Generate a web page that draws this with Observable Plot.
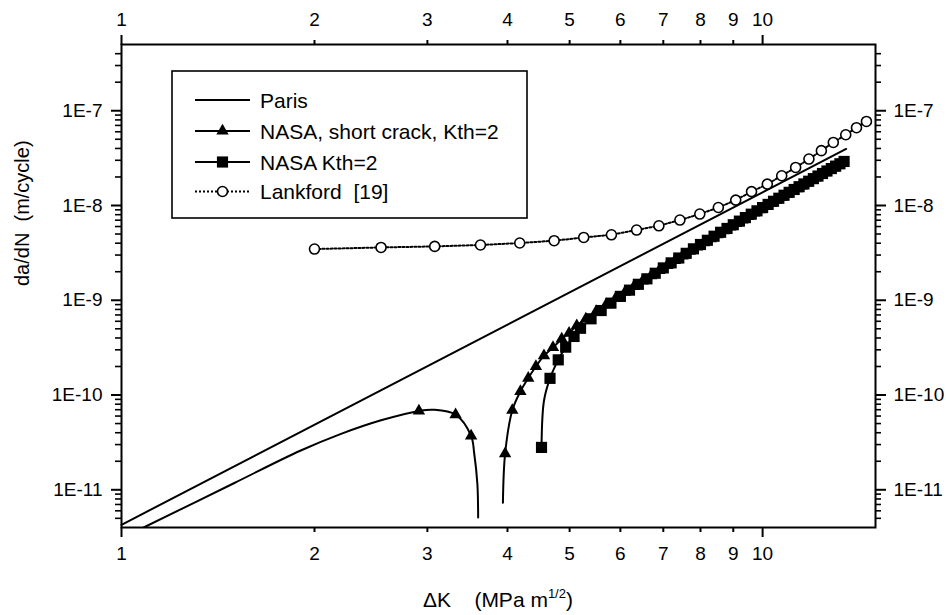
<!DOCTYPE html>
<html><head><meta charset="utf-8">
<script src="https://cdn.jsdelivr.net/npm/d3@7"></script>
<script src="https://cdn.jsdelivr.net/npm/@observablehq/plot@0.6"></script>
<style>
body{margin:0;background:#fff;}
svg text{white-space:pre;}
</style></head><body><div id="chart"></div>
<script>
// ---- data (ΔK in MPa m^1/2, da/dN in m/cycle) ----
const parisK = [1, 13.5];
const parisDa = [4.27e-12, 3.95e-8];

const tri1K = [1.083, 1.5, 1.9, 2.2, 2.54, 2.91, 3.07, 3.32, 3.51, 3.55, 3.59, 3.60];
const tri1Da = [4.0e-12, 1.18e-11, 2.58e-11, 3.89e-11, 5.41e-11, 6.8e-11, 7.0e-11, 6.2e-11, 3.7e-11, 2.4e-11, 1.15e-11, 5.1e-12];
const tri1Marked = [2.91, 3.32, 3.51];

const tri2K = [3.935, 3.966, 4.07, 4.19, 4.31, 4.43, 4.56, 4.71, 4.86, 4.99, 5.13, 5.3, 5.5, 5.7, 5.9, 6.1, 6.3, 6.5, 6.7, 6.9, 7.1, 7.3, 7.5, 7.7, 7.9, 8.1, 8.3, 8.5, 8.7, 8.9, 9.1, 9.3, 9.5, 9.7, 9.9, 10.1, 10.3, 10.5, 10.7, 10.9, 11.1, 11.3, 11.5, 11.7, 11.9, 12.1, 12.3, 12.5, 12.7, 12.9, 13.1, 13.3];
const tri2Da = [7.3e-12, 2.4e-11, 6.9e-11, 1.09e-10, 1.51e-10, 2.0e-10, 2.6e-10, 3.18e-10, 3.9e-10, 4.5e-10, 5.4e-10, 6.35e-10, 7.62e-10, 9.0e-10, 1.053e-9, 1.219e-9, 1.401e-9, 1.597e-9, 1.817e-9, 2.065e-9, 2.335e-9, 2.628e-9, 2.944e-9, 3.287e-9, 3.654e-9, 4.05e-9, 4.473e-9, 4.925e-9, 5.41e-9, 5.926e-9, 6.474e-9, 7.06e-9, 7.68e-9, 8.335e-9, 9.031e-9, 9.763e-9, 1.054e-8, 1.136e-8, 1.222e-8, 1.313e-8, 1.408e-8, 1.508e-8, 1.613e-8, 1.723e-8, 1.837e-8, 1.958e-8, 2.084e-8, 2.216e-8, 2.353e-8, 2.496e-8, 2.647e-8, 2.802e-8];
const tri2LineOnly = [3.935];

const sqK = [4.52, 4.56, 4.66, 4.80, 4.93, 5.08, 5.2, 5.4, 5.6, 5.8, 6.0, 6.2, 6.4, 6.6, 6.8, 7.0, 7.2, 7.4, 7.6, 7.8, 8.0, 8.2, 8.4, 8.6, 8.8, 9.0, 9.2, 9.4, 9.6, 9.8, 10.0, 10.2, 10.4, 10.6, 10.8, 11.0, 11.2, 11.4, 11.6, 11.8, 12.0, 12.2, 12.4, 12.6, 12.8, 13.0, 13.2, 13.4];
const sqDa = [2.8e-11, 8.7e-11, 1.5e-10, 2.35e-10, 3.2e-10, 4.15e-10, 5.065e-10, 6.374e-10, 7.79e-10, 9.324e-10, 1.099e-9, 1.279e-9, 1.474e-9, 1.684e-9, 1.928e-9, 2.194e-9, 2.481e-9, 2.792e-9, 3.128e-9, 3.49e-9, 3.877e-9, 4.295e-9, 4.74e-9, 5.217e-9, 5.725e-9, 6.266e-9, 6.84e-9, 7.452e-9, 8.098e-9, 8.784e-9, 9.51e-9, 1.027e-8, 1.108e-8, 1.193e-8, 1.283e-8, 1.377e-8, 1.476e-8, 1.579e-8, 1.689e-8, 1.803e-8, 1.921e-8, 2.046e-8, 2.176e-8, 2.312e-8, 2.454e-8, 2.602e-8, 2.755e-8, 2.916e-8];
const sqLineOnly = [4.56];

const lkK = [2.00, 2.54, 3.08, 3.63, 4.18, 4.73, 5.26, 5.81, 6.36, 6.89, 7.43, 7.98, 8.53, 9.08, 9.61, 10.17, 10.71, 11.26, 11.81, 12.35, 12.89, 13.48, 14.01, 14.52];
const lkDa = [3.47e-9, 3.61e-9, 3.70e-9, 3.83e-9, 4.02e-9, 4.25e-9, 4.60e-9, 4.91e-9, 5.51e-9, 6.11e-9, 7.02e-9, 8.12e-9, 9.53e-9, 1.14e-8, 1.40e-8, 1.68e-8, 2.06e-8, 2.52e-8, 3.09e-8, 3.79e-8, 4.63e-8, 5.58e-8, 6.62e-8, 7.71e-8];

const legendLabels = ["Paris", "NASA, short crack, Kth=2", "NASA Kth=2", "Lankford  [19]"];
const xTicksMajor = [1, 10];
const xTicksMinor = [2, 3, 4, 5, 6, 7, 8, 9];
const yTicksMajor = [1e-11, 1e-10, 1e-9, 1e-8, 1e-7];
const yMinorMult = [2, 3, 4, 5, 6, 7, 8, 9];
const yMinorExp = [-12, -11, -10, -9, -8, -7];
const xDomain = [1, 15];
const yDomain = [4e-12, 5e-7];
const xTitle = ["\u0394K    (MPa m", "1/2", ")"];
const yTitle = "da/dN  (m/cycle)";

// ---- build tables ----
const zip = (ks, ds) => ks.map((k, i) => ({k, da: ds[i]}));
const paris = zip(parisK, parisDa);
const tri1 = zip(tri1K, tri1Da);
const tri2 = zip(tri2K, tri2Da);
const sq = zip(sqK, sqDa);
const lk = zip(lkK, lkDa);
const yMinor = [];
for (const e of yMinorExp) for (const m of yMinorMult) {
  const v = m * Math.pow(10, e);
  if (v > yDomain[0] * 1.0001 && v < yDomain[1] * 0.9999) yMinor.push(v);
}

const W = 946, H = 615;
const mL = 121, mR = 71, mT = 44, mB = 88;
const font = "'Liberation Sans', Arial, Helvetica, sans-serif";
const triR = 4.6, sqR = 6.3, cR = 5;
const tickFont = 19;
const yFmt = d => "1E" + Math.round(Math.log10(d));

const chart = Plot.plot({
  width: W, height: H,
  marginLeft: mL, marginRight: mR, marginTop: mT, marginBottom: mB,
  style: {fontFamily: font, fontSize: "19px", color: "black", background: "white", overflow: "visible"},
  x: {type: "log", domain: xDomain},
  y: {type: "log", domain: yDomain},
  marks: [
    Plot.line(paris, {x: "k", y: "da", stroke: "black", strokeWidth: 2}),
    Plot.line(tri1, {x: "k", y: "da", stroke: "black", strokeWidth: 2, curve: "catmull-rom", clip: true}),
    Plot.dot(tri1.filter(d => tri1Marked.includes(d.k)), {x: "k", y: "da", symbol: "triangle", r: triR, fill: "black", stroke: "none"}),
    Plot.line(tri2, {x: "k", y: "da", stroke: "black", strokeWidth: 2, curve: "catmull-rom", clip: true}),
    Plot.dot(tri2.filter(d => !tri2LineOnly.includes(d.k)), {x: "k", y: "da", symbol: "triangle", r: triR, fill: "black", stroke: "none"}),
    Plot.line(sq, {x: "k", y: "da", stroke: "black", strokeWidth: 2, curve: "catmull-rom", clip: true}),
    Plot.dot(sq.filter(d => !sqLineOnly.includes(d.k)), {x: "k", y: "da", symbol: "square", r: sqR, fill: "black", stroke: "none"}),
    Plot.line(lk, {x: "k", y: "da", stroke: "black", strokeWidth: 2, strokeDasharray: "2,2"}),
    Plot.dot(lk, {x: "k", y: "da", r: cR, fill: "white", stroke: "black", strokeWidth: 1.6}),
    Plot.frame({stroke: "black", strokeWidth: 2}),
    // x axes
    Plot.axisX(xTicksMajor, {anchor: "bottom", tickSize: 10, tickPadding: 9, strokeWidth: 2, fontSize: tickFont, tickFormat: d => String(d), label: null}),
    Plot.axisX(xTicksMinor, {anchor: "bottom", tickSize: 5, tickPadding: 14, strokeWidth: 2, fontSize: tickFont, tickFormat: d => String(d), label: null}),
    Plot.axisX(xTicksMajor, {anchor: "top", tickSize: 10, tickPadding: 9, strokeWidth: 2, fontSize: tickFont, tickFormat: d => String(d), label: null}),
    Plot.axisX(xTicksMinor, {anchor: "top", tickSize: 5, tickPadding: 14, strokeWidth: 2, fontSize: tickFont, tickFormat: d => String(d), label: null}),
    // y axes
    Plot.axisY(yTicksMajor, {anchor: "left", tickSize: 10, tickPadding: 9, strokeWidth: 2, fontSize: tickFont, tickFormat: yFmt, label: null}),
    Plot.axisY(yMinor, {anchor: "left", tickSize: 6, strokeWidth: 1.6, tickFormat: () => "", label: null}),
    Plot.axisY(yTicksMajor, {anchor: "right", tickSize: 10, tickPadding: 8, strokeWidth: 2, fontSize: tickFont, tickFormat: yFmt, label: null}),
    Plot.axisY(yMinor, {anchor: "right", tickSize: 5, strokeWidth: 1.6, tickFormat: () => "", label: null}),
    Plot.text([yTitle], {frameAnchor: "left", dx: -99, rotate: -90, fontSize: 20, text: d => d})
  ]
});
document.getElementById("chart").appendChild(chart);

// ---- legend and x title ----
const svg = d3.select(chart);
const lg = svg.append("g").attr("font-family", font).attr("font-size", 21).attr("text-anchor", "start");
lg.append("rect").attr("x", 172).attr("y", 71).attr("width", 355).attr("height", 147)
  .attr("fill", "white").attr("stroke", "black").attr("stroke-width", 1.6);
const rowY = [100, 131, 162, 191.5];
const x0 = 195, x1 = 250, xm = 222.5, xt = 260;
legendLabels.forEach((lab, i) => {
  const y = rowY[i];
  const ln = lg.append("line").attr("x1", x0).attr("x2", x1).attr("y1", y).attr("y2", y)
    .attr("stroke", "black").attr("stroke-width", 2);
  if (i === 3) ln.attr("stroke-dasharray", "2,2");
  if (i === 1) lg.append("path").attr("d", d3.symbol(d3.symbolTriangle, Math.PI * triR * triR)()).attr("transform", `translate(${xm},${y})`).attr("fill", "black");
  if (i === 2) lg.append("path").attr("d", d3.symbol(d3.symbolSquare, Math.PI * sqR * sqR)()).attr("transform", `translate(${xm},${y})`).attr("fill", "black");
  if (i === 3) lg.append("circle").attr("cx", xm).attr("cy", y).attr("r", cR).attr("fill", "white").attr("stroke", "black").attr("stroke-width", 1.6);
  lg.append("text").attr("x", xt).attr("y", y + 7.5).attr("fill", "black").attr("text-anchor", "start").text(lab);
});
const xt2 = svg.append("text").attr("x", (mL + W - mR) / 2).attr("y", 607)
  .attr("text-anchor", "middle").attr("font-family", font).attr("font-size", 21).attr("fill", "black");
xt2.append("tspan").text(xTitle[0]);
xt2.append("tspan").attr("font-size", 13).attr("dy", -9).text(xTitle[1]);
xt2.append("tspan").attr("dy", 9).text(xTitle[2]);
</script></body></html>
